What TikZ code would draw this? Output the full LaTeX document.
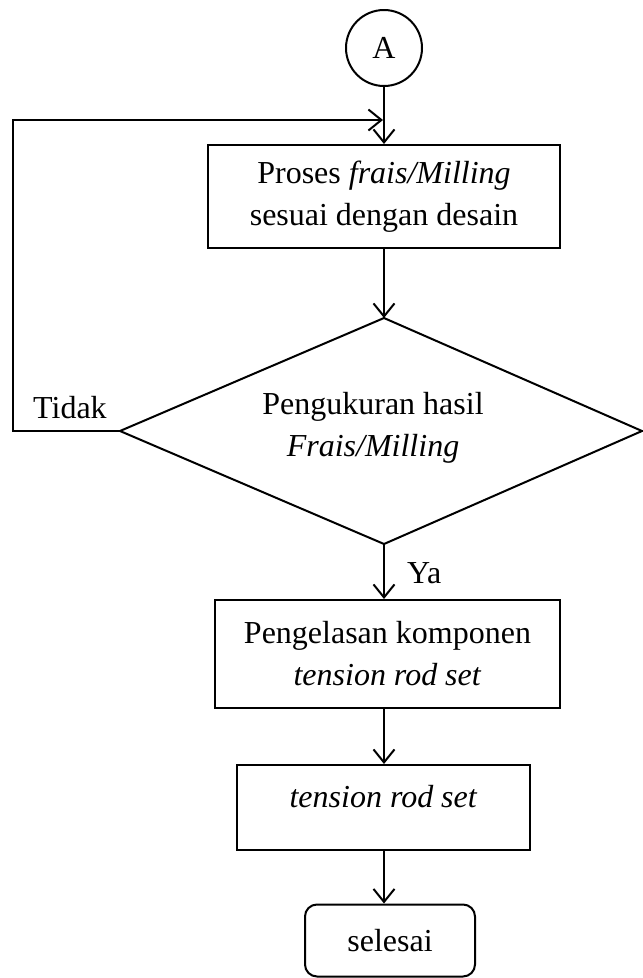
\documentclass[tikz,border=0pt]{standalone}
\usepackage{fontspec}
\setmainfont{Liberation Serif}
\usetikzlibrary{arrows.meta}

\begin{document}
\begin{tikzpicture}[x=1pt,y=-1pt,
  every node/.style={font=\fontsize{32}{42}\selectfont},
  stroke/.style={line width=2pt, line join=miter},
  flow/.style={stroke, -{Straight Barb[length=13pt,width=21pt]}},
  procbox/.style={draw, stroke, align=center, inner sep=0pt},
  connector/.style={draw, stroke, circle, inner sep=0pt, minimum size=76pt},
  endbox/.style={draw, stroke, rounded corners=12pt, inner sep=0pt},
  tag/.style={inner sep=0pt, anchor=base west}]
\useasboundingbox (0,0) rectangle (643,978);

% start connector
\node[connector] (A) at (384,48) {A};

% milling step
\node[procbox, minimum width=352pt, minimum height=103pt] (mill) at (384,196.5)
  {Proses \textit{frais/Milling}\\sesuai dengan desain};

% measurement decision
\coordinate (dtop) at (384,318);
\coordinate (dright) at (642,431);
\coordinate (dbottom) at (384,544);
\coordinate (dleft) at (120,431);
\draw[stroke] (dtop) -- (dright) -- (dbottom) -- (dleft) -- cycle;
\node[align=center, inner sep=0pt] (check) at (373,428)
  {Pengukuran hasil\\\textit{Frais/Milling}};

% welding step
\node[procbox, minimum width=345pt, minimum height=108pt] (weld) at (387.5,654)
  {Pengelasan komponen\\\textit{tension rod set}};

% result
\node[procbox, minimum width=293pt, minimum height=85pt,
      text height=22pt, text depth=23pt] (result) at (383.5,807.5)
  {\textit{tension rod set}};

% end
\node[endbox, minimum width=170pt, minimum height=72pt] (stop) at (390,940.5)
  {selesai};

% connectors
\coordinate (merge) at (384,120);
\coordinate (loop) at (13,431);
\draw[flow] (A.south) -- (mill.north -| A.south);
\draw[flow] (mill.south -| dtop) -- (dtop);
\draw[flow] (dbottom) -- (weld.north -| dbottom);
\draw[flow] (weld.south -| dbottom) -- (result.north -| dbottom);
\draw[flow] (result.south -| dbottom) -- (stop.north -| dbottom);
\draw[flow] (dleft) -- (loop) |- ([xshift=-1pt]merge);

% branch labels
\node[tag] (no) at (33,418) {Tidak};
\node[tag] (yes) at (407,583) {Ya};
\end{tikzpicture}
\end{document}
